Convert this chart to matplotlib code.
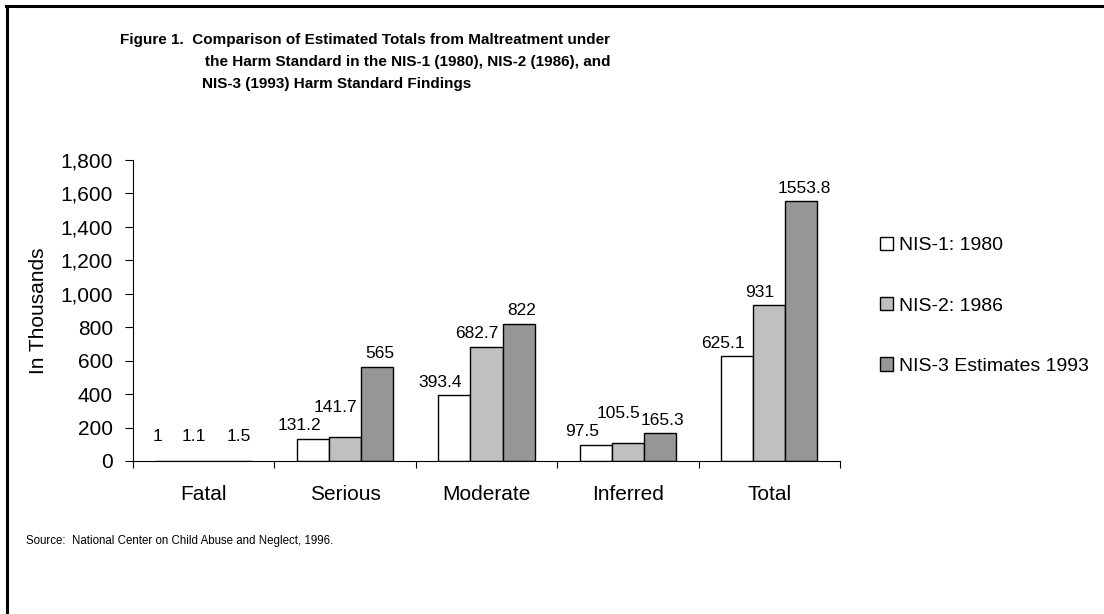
import numpy as np
import matplotlib
matplotlib.use('Agg')
import matplotlib.pyplot as plt
from matplotlib.lines import Line2D
from matplotlib.ticker import FuncFormatter

plt.rcParams['font.family'] = ['Liberation Sans', 'DejaVu Sans']

# data
categories = ['Fatal', 'Serious', 'Moderate', 'Inferred', 'Total']
series_names = ['NIS-1: 1980', 'NIS-2: 1986', 'NIS-3 Estimates 1993']
nis1 = [1, 131.2, 393.4, 97.5, 625.1]
nis2 = [1.1, 141.7, 682.7, 105.5, 931]
nis3 = [1.5, 565, 822, 165.3, 1553.8]
label_txt = [['1', '131.2', '393.4', '97.5', '625.1'],
             ['1.1', '141.7', '682.7', '105.5', '931'],
             ['1.5', '565', '822', '165.3', '1553.8']]
colors = ['#ffffff', '#c0c0c0', '#969696']

fig = plt.figure(figsize=(11.04, 6.14), dpi=100)
ax = fig.add_axes([0.1205, 0.2492, 0.6404, 0.4902])

x = np.arange(len(categories))
w = 0.227
lab_dx = [-10, -7, 2]   # excel-ish label shift (points)
all_vals = [nis1, nis2, nis3]
for i, vals in enumerate(all_vals):
    pos = x + (i - 1) * w
    ax.bar(pos, vals, w, color=colors[i], edgecolor='black', linewidth=1.0,
           label=series_names[i])
    for j, (p, v, t) in enumerate(zip(pos, vals, label_txt[i])):
        dy = 4
        # lift the middle label when it would run into its left neighbour
        if i == 1 and v > 50 and abs(v - nis1[j]) < 60:
            dy = 16
        ax.annotate(t, (p, max(v, 70)), xytext=(lab_dx[i], dy),
                    textcoords='offset points', ha='center', va='bottom',
                    fontsize=12.5)

ax.set_xlim(-0.5, 4.5)
ax.set_ylim(0, 1800)
ax.set_yticks(np.arange(0, 1801, 200))
ax.yaxis.set_major_formatter(FuncFormatter(lambda v, p: f'{int(v):,}'))
ax.tick_params(axis='y', labelsize=15, length=5.5, width=0.8, direction='out', pad=9)

ax.set_xticks(x)
ax.set_xticklabels(categories, fontsize=15)
ax.tick_params(axis='x', which='major', length=0, pad=17.5)
ax.set_xticks(np.arange(-0.5, 4.6, 1), minor=True)
ax.tick_params(axis='x', which='minor', length=5, width=0.8, direction='out')

for s in ['top', 'right']:
    ax.spines[s].set_visible(False)
ax.spines['left'].set_linewidth(0.8)
ax.spines['bottom'].set_linewidth(0.8)

ax.set_ylabel('In Thousands', fontsize=15, labelpad=9)

fig.legend(loc='upper left', bbox_to_anchor=(0.790, 0.627), frameon=False,
           fontsize=14, handlelength=0.68, handleheight=0.68, handletextpad=0.3,
           labelspacing=2.2, borderaxespad=0)

# title
fig.text(0.1087, 1 - 40 / 614, 'Figure 1.  Comparison of Estimated Totals from Maltreatment under',
         fontsize=11, fontweight='bold', va='center')
fig.text(0.1857, 1 - 62 / 614, 'the Harm Standard in the NIS-1 (1980), NIS-2 (1986), and',
         fontsize=11, fontweight='bold', va='center')
fig.text(0.1830, 1 - 84 / 614, 'NIS-3 (1993) Harm Standard Findings',
         fontsize=11, fontweight='bold', va='center')

fig.text(0.0235, 1 - 541 / 614, 'Source:  National Center on Child Abuse and Neglect, 1996.',
         fontsize=8.3, va='center')

# frame lines (top and left only)
fig.add_artist(Line2D([0.0055, 1.0], [0.9898, 0.9898], color='black', linewidth=2.2,
                      transform=fig.transFigure))
fig.add_artist(Line2D([0.0063, 0.0063], [0.0, 0.9898], color='black', linewidth=2.2,
                      transform=fig.transFigure))

fig.savefig('out.png', dpi=100)
